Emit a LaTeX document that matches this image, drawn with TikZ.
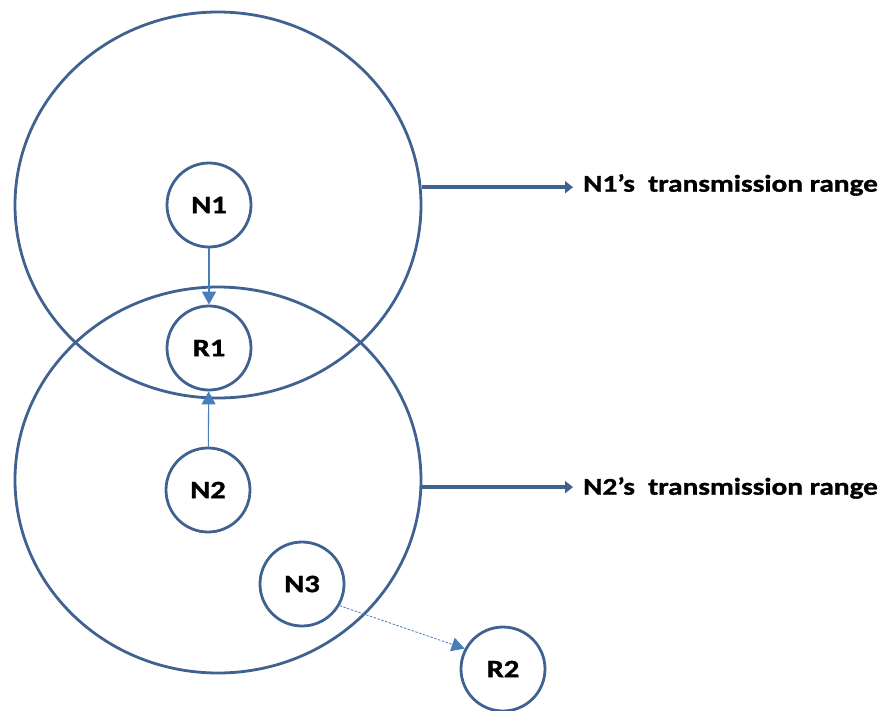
\documentclass[tikz,border=0pt]{standalone}
\usepackage{fontspec}
\setmainfont{Carlito}
\newfontfamily\widefont[FakeStretch=1.22,FakeBold=1.2]{Carlito}
\usetikzlibrary{arrows.meta,shapes.geometric}
\definecolor{ringblue}{RGB}{64,98,145}
\definecolor{linkblue}{RGB}{74,126,187}
\begin{document}
\begin{tikzpicture}[x=1pt,y=-1pt,
  rangering/.style={draw=ringblue,line width=2.8pt,ellipse,minimum width=406pt,minimum height=386pt,inner sep=0pt},
  station/.style={draw=ringblue,line width=2.8pt,circle,minimum size=84pt,inner sep=0pt,
    font=\widefont\fontsize{25}{27}\selectfont\bfseries},
  linkarrow/.style={draw=linkblue,line width=1.1pt,-{Triangle[length=13pt,width=14pt]}},
  reacharrow/.style={draw=ringblue,line width=4pt,-{Triangle[length=8pt,width=12pt]},shorten >=10pt},
  rangelabel/.style={anchor=west,inner sep=0pt,font=\widefont\fontsize{24}{26}\selectfont\bfseries}]
\useasboundingbox (0,0) rectangle (886,710);
% transmission ranges
\node[rangering] (r1) at (218,205) {};
\node[rangering] (r2) at (218,480) {};
% stations
\node[station] (n1) at (209,205) {N1};
\node[station] (rr1) at (209,348) {R1};
\node[station] (n2) at (208,490) {N2};
\node[station] (n3) at (302,584) {N3};
\node[station] (rr2) at (503,669) {R2};
% range captions
\node[rangelabel] (c1) at (583,185) {N1’s\ \ transmission range};
\node[rangelabel] (c2) at (583,488) {N2’s\ \ transmission range};
\draw[reacharrow] (r1.5.6) -- (r1.5.6 -| c1.west);
\draw[reacharrow] (r2.-2.2) -- (r2.-2.2 -| c2.west);
% links
\draw[linkarrow] (n1) -- (rr1);
\draw[linkarrow] (n2) -- (rr1);
\draw[linkarrow,line width=0.8pt,dash pattern=on 2.5pt off 1.5pt] (n3.-30) -- (rr2.152);
\end{tikzpicture}
\end{document}
